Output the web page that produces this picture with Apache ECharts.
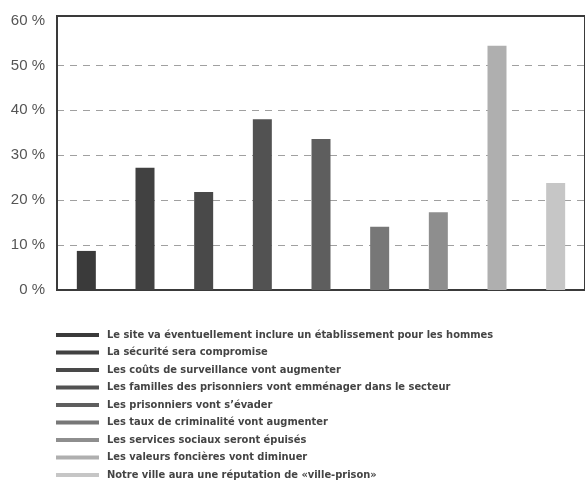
<!DOCTYPE html>
<html>
<head>
<meta charset="utf-8">
<script src="https://cdn.jsdelivr.net/npm/echarts@6/dist/echarts.min.js"></script>
<style>
  html, body { margin: 0; padding: 0; background: #fff; }
  #chart { width: 585px; height: 496px; }
</style>
</head>
<body>
<div id="chart"></div>
<script>
// Survey responses: share of respondents agreeing with each concern
const categories = [
  "Le site va éventuellement inclure un établissement pour les hommes",
  "La sécurité sera compromise",
  "Les coûts de surveillance vont augmenter",
  "Les familles des prisonniers vont emménager dans le secteur",
  "Les prisonniers vont s’évader",
  "Les taux de criminalité vont augmenter",
  "Les services sociaux seront épuisés",
  "Les valeurs foncières vont diminuer",
  "Notre ville aura une réputation de «ville-prison»"
];
const values = [8.7, 27.2, 21.8, 38, 33.6, 14.1, 17.3, 54.4, 23.8];
const yTicks = [0, 10, 20, 30, 40, 50, 60];

const palette = ["#3a3a3a", "#414141", "#494949", "#525252", "#5e5e5e",
                 "#777777", "#8e8e8e", "#afafaf", "#c6c6c6"];

// One series per concern so each gets its own legend entry;
// each series holds a single value at its own category slot.
const series = categories.map((name, i) => ({
  name: name,
  type: "bar",
  barWidth: 19,
  barGap: "-100%",
  itemStyle: { color: palette[i] },
  data: categories.map((_, j) => (j === i ? values[i] : null))
}));

const chart = echarts.init(document.getElementById("chart"), null, { renderer: "canvas" });
chart.setOption({
  animation: false,
  backgroundColor: "#ffffff",
  grid: {
    left: 57, top: 16, width: 533, bottom: 206,
    show: true, borderColor: "#3a3a3a", borderWidth: 2, backgroundColor: "transparent"
  },
  xAxis: {
    type: "category",
    data: categories,
    axisLabel: { show: false },
    axisTick: { show: false },
    axisLine: { show: true, lineStyle: { color: "#3a3a3a", width: 2 } },
    splitLine: { show: false }
  },
  yAxis: {
    type: "value",
    min: 0, max: 61, interval: 10,
    axisLabel: {
      color: "#555",
      fontFamily: "'Liberation Sans', Arial, sans-serif",
      fontSize: 15,
      margin: 12,
      formatter: v => (yTicks.includes(v) ? v + " %" : "")
    },
    axisTick: { show: false },
    axisLine: { show: true, lineStyle: { color: "#3a3a3a", width: 2 } },
    splitLine: {
      show: true,
      lineStyle: {
        type: [7, 6],
        width: 1,
        color: ["transparent", "#a0a0a0", "#a0a0a0", "#a0a0a0", "#a0a0a0", "#a0a0a0", "transparent"]
      }
    }
  },
  legend: {
    orient: "vertical",
    left: 56,
    top: 328,
    height: 168,
    padding: 0,
    itemWidth: 43,
    itemHeight: 4,
    itemGap: 3.5,
    icon: "rect",
    selectedMode: false,
    textStyle: {
      color: "#444",
      fontFamily: "'Liberation Sans Narrow', 'DejaVu Sans Condensed', 'Liberation Sans', sans-serif",
      fontWeight: "bold",
      fontSize: 11,
      lineHeight: 14,
      padding: [0, 0, 0, 3]
    },
    data: categories
  },
  series: series
});
</script>
</body>
</html>
